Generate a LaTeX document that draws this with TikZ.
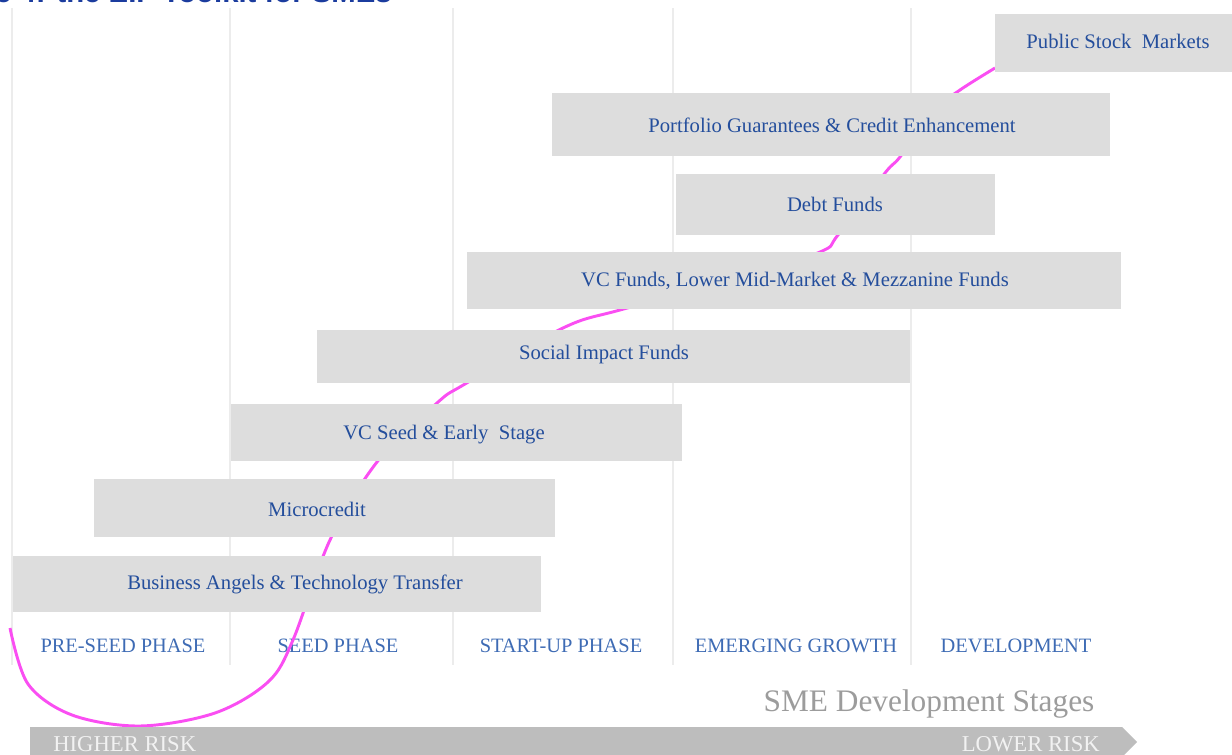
\documentclass[tikz,border=0pt]{standalone}
\usepackage{fontspec}
\setmainfont{Liberation Serif}
\newfontfamily\titlefont{Liberation Sans}

\definecolor{boxgray}{HTML}{DDDDDD}
\definecolor{fundblue}{HTML}{244E9C}
\definecolor{phaseblue}{HTML}{3E6BB4}
\definecolor{titleblue}{HTML}{1B3C9E}
\definecolor{linegray}{HTML}{ECECEC}
\definecolor{riskpink}{HTML}{FA4EF2}
\definecolor{bandgray}{HTML}{BDBDBD}
\definecolor{stagegray}{HTML}{9C9C9C}

\tikzset{
    fundbox/.style={fill=boxgray},
    fundtext/.style={inner sep=0pt, text height=10.3pt, text depth=0pt, text=fundblue,
        font=\fontsize{15.5}{18}\selectfont},
    phaselabel/.style={text=phaseblue, font=\fontsize{15.3}{18}\selectfont},
    stageline/.style={draw=linegray, line width=0.8pt},
    risktext/.style={inner sep=0pt, text=white!95!black, font=\fontsize{17}{20}\selectfont},
}

\begin{document}
\begin{tikzpicture}[x=0.75pt, y=-0.75pt]

    % Page frame (pixel grid, y downwards)
    \useasboundingbox (0,0) rectangle (1232,755);
    \clip (0,0) rectangle (1232,755);

    % Title, cut by the top edge
    \node[anchor=base east, inner sep=0pt, text=titleblue,
        font=\titlefont\bfseries\fontsize{22}{24}\selectfont] (title) at (392,3) {Figure 4: the EIF Toolkit for SMEs};

    % Stage separators
    \foreach \x in {12,230,453,673,911}
        \draw[stageline] (\x,8) -- (\x,665);

    % Stage names
    \node[phaselabel] (preseed) at (123,646) {PRE-SEED PHASE};
    \node[phaselabel] (seed) at (338,646) {SEED PHASE};
    \node[phaselabel] (startup) at (561,646) {START-UP PHASE};
    \node[phaselabel] (emerging) at (796,646) {EMERGING GROWTH};
    \node[phaselabel] (development) at (1016,646) {DEVELOPMENT};

    % Risk curve, behind the boxes
    \draw[riskpink, line width=2.2pt] plot[smooth, tension=0.55] coordinates {
        (10,628) (28,684) (72,715) (140,726) (215,713) (268,682) (293,640)
        (330,540) (377,462) (437,403) (465,384) (563,328) (620,310)
        (735,280) (820,252) (838,235) (885,173) (900,157) (935,110) (960,90) (995,68)};

    % Instruments (boxes, then their names)
    \path[fundbox] (13,556) rectangle (541,612);
    \path[fundbox] (94,479) rectangle (555,537);
    \path[fundbox] (231,404) rectangle (682,461);
    \path[fundbox] (317,330) rectangle (910,383);
    \path[fundbox] (467,252) rectangle (1121,309);
    \path[fundbox] (676,174) rectangle (995,235);
    \path[fundbox] (552,93) rectangle (1110,156);
    \path[fundbox] (995,14) rectangle (1240,72);

    \node[fundtext] (angels) at (295,583) {Business Angels \& Technology Transfer};
    \node[fundtext] (micro) at (317,510) {Microcredit};
    \node[fundtext] (vcseed) at (444,433) {VC Seed \& Early\ \ Stage};
    \node[fundtext] (social) at (604,353) {Social Impact Funds};
    \node[fundtext] (vcfunds) at (795,280) {VC Funds, Lower Mid-Market \& Mezzanine Funds};
    \node[fundtext] (debt) at (835,205) {Debt Funds};
    \node[fundtext] (guarantees) at (832,126) {Portfolio Guarantees \& Credit Enhancement};
    \node[fundtext] (stock) at (1118,42) {Public Stock\ \ Markets};

    % Axis caption
    \node[anchor=base, text=stagegray, font=\fontsize{23.5}{27}\selectfont] (stages) at (929,711) {SME Development Stages};

    % Risk band
    \fill[bandgray] (30,727) -- (1122,727) -- (1137,742) -- (1122,757) -- (30,757) -- cycle;
    \node[risktext, anchor=base west] (higher) at (53,751) {HIGHER RISK};
    \node[risktext, anchor=base east] (lower) at (1100,751) {LOWER RISK};

\end{tikzpicture}
\end{document}
